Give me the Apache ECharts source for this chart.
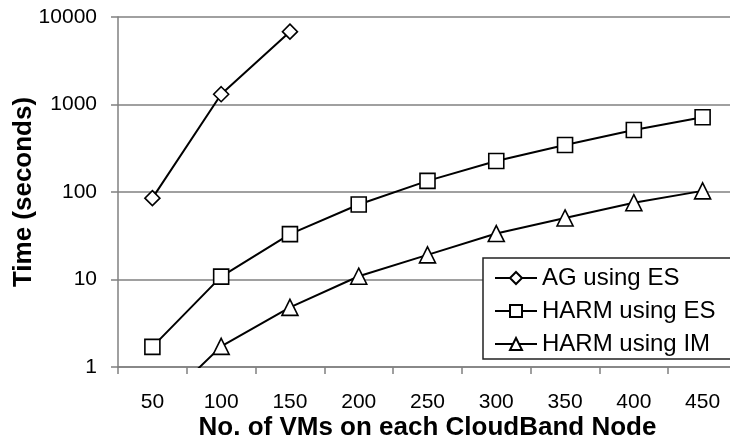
<!DOCTYPE html>
<html>
<head>
<meta charset="utf-8">
<script src="https://cdn.jsdelivr.net/npm/echarts@6/dist/echarts.min.js"></script>
<style>
  html, body { margin: 0; padding: 0; background: #fff; }
  #chart { width: 730px; height: 446px; }
</style>
</head>
<body>
<div id="chart"></div>
<script>
// Number of VMs per CloudBand node
const vmCounts = ['50', '100', '150', '200', '250', '300', '350', '400', '450'];

// Completion time in seconds
const agUsingES   = [85, 1310, 6800, null, null, null, null, null, null];
const harmUsingES = [1.7, 10.8, 33, 72, 134, 226, 344, 511, 714];
const harmUsingIM = [0.3, 1.72, 4.8, 10.9, 19.1, 33.5, 50.5, 75.5, 103];

const yTicks = [1, 10, 100, 1000, 10000];

const FONT = '"Liberation Sans", Arial, sans-serif';

function lineSeries(name, data, symbol, size) {
  return {
    name: name,
    type: 'line',
    data: data,
    symbol: symbol,
    symbolSize: size,
    showAllSymbol: true,
    connectNulls: false,
    clip: true,
    lineStyle: { color: '#000', width: 2 },
    itemStyle: { color: '#fff', borderColor: '#000', borderWidth: 1.6 },
    emphasis: { disabled: true },
    z: 3
  };
}

const chart = echarts.init(document.getElementById('chart'), null, { renderer: 'canvas' });

chart.setOption({
  animation: false,
  backgroundColor: '#fff',
  grid: {
    left: 118, top: 17, width: 619, height: 350,
    containLabel: false,
    outerBoundsMode: 'none'
  },
  xAxis: {
    type: 'category',
    data: vmCounts,
    boundaryGap: true,
    name: 'No. of VMs on each CloudBand Node',
    nameLocation: 'middle',
    nameGap: 48,
    nameMoveOverlap: false,
    nameTextStyle: { fontFamily: FONT, fontSize: 26, fontWeight: 'bold', color: '#000' },
    axisLine: { lineStyle: { color: '#808080', width: 1.5 } },
    axisTick: { show: true, length: 7, lineStyle: { color: '#808080', width: 1.5 } },
    axisLabel: { fontFamily: FONT, fontSize: 21, color: '#000', margin: 25 },
    splitLine: { show: false }
  },
  yAxis: {
    type: 'log',
    logBase: 10,
    min: yTicks[0],
    max: yTicks[yTicks.length - 1],
    name: 'Time (seconds)',
    nameLocation: 'middle',
    nameGap: 81,
    nameMoveOverlap: false,
    nameTextStyle: { fontFamily: FONT, fontSize: 26, fontWeight: 'bold', color: '#000' },
    axisLine: { show: true, lineStyle: { color: '#808080', width: 1.5 } },
    axisTick: { show: true, length: 7, lineStyle: { color: '#808080', width: 1.5 } },
    axisLabel: {
      fontFamily: FONT, fontSize: 21, color: '#000', margin: 21,
      formatter: function (v) { return String(Math.round(v)); }
    },
    splitLine: { show: true, lineStyle: { color: '#808080', width: 1.5 } },
    minorTick: { show: false }
  },
  legend: {
    orient: 'vertical',
    left: 483,
    top: 258,
    width: 260,
    padding: [8, 20, 3, 11],
    itemGap: 9,
    itemWidth: 42,
    itemHeight: 15,
    backgroundColor: '#fff',
    borderColor: '#222',
    borderWidth: 1.5,
    textStyle: { fontFamily: FONT, fontSize: 24, color: '#000' },
    data: ['AG using ES', 'HARM using ES', 'HARM using IM']
  },
  series: [
    lineSeries('AG using ES', agUsingES, 'diamond', 15),
    lineSeries('HARM using ES', harmUsingES, 'rect', 15),
    lineSeries('HARM using IM', harmUsingIM, 'triangle', 16)
  ]
});
</script>
</body>
</html>
